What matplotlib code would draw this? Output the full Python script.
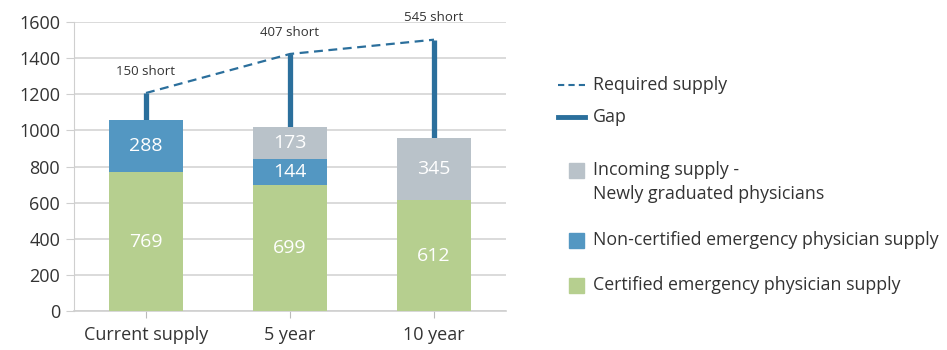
import numpy as np
import matplotlib.pyplot as plt
from matplotlib.patches import Rectangle
from matplotlib.lines import Line2D

plt.rcParams['font.family'] = ['Open Sans', 'DejaVu Sans']

# Supply by horizon
periods = ["Current supply", "5 year", "10 year"]
certified = [769, 699, 612]
non_certified = [288, 144, 0]
incoming = [0, 173, 345]
shortfall = [150, 407, 545]

green = "#b6cf8f"
blue = "#5397c2"
grey = "#b9c2c9"
dark = "#2b6f9c"
text_col = "#333333"

x = np.arange(len(periods))
cert = np.array(certified)
noncert = np.array(non_certified)
inc = np.array(incoming)
supply = cert + noncert + inc
required = supply + np.array(shortfall)

fig = plt.figure(figsize=(9.47, 3.5), dpi=100)
ax = fig.add_axes([74 / 947, 1 - 311 / 350, 432 / 947, 289 / 350])

w = 0.51
ax.bar(x, cert, w, color=green, zorder=3)
ax.bar(x, noncert, w, bottom=cert, color=blue, zorder=3)
ax.bar(x, inc, w, bottom=cert + noncert, color=grey, zorder=3)

# segment labels
for i in range(len(x)):
    segs = [(cert[i], 0), (noncert[i], cert[i]), (inc[i], cert[i] + noncert[i])]
    for val, base in segs:
        if val > 0:
            ax.text(x[i], base + val / 2, str(val), ha="center", va="center",
                    color="white", fontsize=14, zorder=5)

# gap and required supply
ax.vlines(x, supply, required, color=dark, lw=3.8, zorder=2)
ax.plot(x, required, ls=(0, (4, 2.5)), color=dark, lw=1.6, zorder=4)
for i in range(len(x)):
    ax.annotate(f"{shortfall[i]} short", (x[i], required[i]), xytext=(0, 11),
                textcoords="offset points", ha="center", va="bottom",
                fontsize=9.5, color=text_col)

ax.set_xlim(-0.5, 2.5)
ax.set_ylim(0, 1600)
ax.set_yticks(np.arange(0, 1601, 200))
ax.set_xticks(x)
ax.set_xticklabels(periods)
ax.grid(axis="y", color="#d4d4d4", lw=1.2, zorder=0)
for s in ["top", "right"]:
    ax.spines[s].set_visible(False)
ax.spines["left"].set_color("#cfcfcf")
ax.spines["bottom"].set_color("#cfcfcf")
ax.spines["bottom"].set_linewidth(1.2)
ax.tick_params(axis="y", colors="#cfcfcf", length=6, labelsize=13,
               labelcolor=text_col, pad=4)
ax.tick_params(axis="x", colors="#bbbbbb", length=5, labelsize=13,
               labelcolor=text_col, pad=6)

# legend
def fx(px):
    return px / 947


def fy(py):
    return 1 - py / 350


fig.add_artist(Line2D([fx(558), fx(585)], [fy(85), fy(85)], ls=(0, (3, 2)),
                      color=dark, lw=1.5, transform=fig.transFigure))
fig.add_artist(Line2D([fx(558), fx(585)], [fy(117), fy(117)], color=dark,
                      lw=3.5, transform=fig.transFigure))
for py, col in [(170, grey), (240, blue), (285, green)]:
    fig.add_artist(Rectangle((fx(569), fy(py + 7.5)), fx(15), 15 / 350,
                             color=col, transform=fig.transFigure))

entries = [(85, "Required supply"), (117, "Gap"), (170, "Incoming supply -"),
           (194, "Newly graduated physicians"),
           (240, "Non-certified emergency physician supply"),
           (285, "Certified emergency physician supply")]
for py, label in entries:
    fig.text(fx(593), fy(py), label, ha="left", va="center", fontsize=12.8,
             color=text_col)

fig.savefig("out.png", dpi=100)
